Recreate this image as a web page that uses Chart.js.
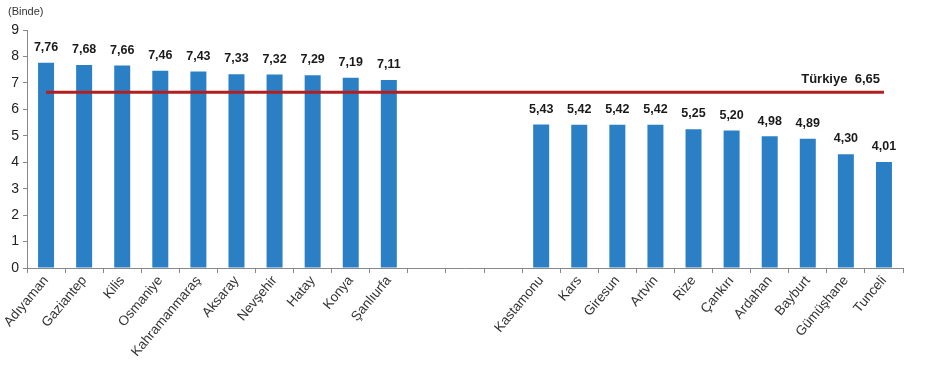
<!DOCTYPE html>
<html>
<head>
<meta charset="utf-8">
<script src="https://cdn.jsdelivr.net/npm/chart.js@4"></script>
<style>
  html, body { margin: 0; padding: 0; background: #fff; }
  #wrap { width: 934px; height: 370px; position: relative; }
</style>
</head>
<body>
<div id="wrap"><canvas id="grafik"></canvas></div>
<script>
// Iller (bos etiketler iki grup arasindaki boslugu olusturur)
const iller = [
    'Adıyaman', 'Gaziantep', 'Kilis', 'Osmaniye', 'Kahramanmaraş',
    'Aksaray', 'Nevşehir', 'Hatay', 'Konya', 'Şanlıurfa',
    '', '', '',
    'Kastamonu', 'Kars', 'Giresun', 'Artvin', 'Rize',
    'Çankırı', 'Ardahan', 'Bayburt', 'Gümüşhane', 'Tunceli'
];

// Binde degerler
const degerler = [
    7.76, 7.68, 7.66, 7.46, 7.43, 7.33, 7.32, 7.29, 7.19, 7.11,
    null, null, null,
    5.43, 5.42, 5.42, 5.42, 5.25, 5.20, 4.98, 4.89, 4.30, 4.01
];

const turkiyeDegeri = 6.65;
const yTikleri = [0, 1, 2, 3, 4, 5, 6, 7, 8, 9];

function virgulle(v) {
    return v.toFixed(2).replace('.', ',');
}

/**
 * Cubuk ustu etiketler ve Turkiye yazisi
 */
const etiketEklentisi = {
    id: 'etiketler',
    afterDatasetsDraw(chart) {
        const ctx = chart.ctx;
        const meta = chart.getDatasetMeta(0);
        ctx.save();
        ctx.font = 'bold 12.5px "Liberation Sans", Arial, sans-serif';
        ctx.fillStyle = '#1a1a1a';
        ctx.textAlign = 'center';
        ctx.textBaseline = 'bottom';
        meta.data.forEach(function (bar, i) {
            const v = degerler[i];
            if (v === null) return;
            ctx.fillText(virgulle(v), bar.x, bar.y - 9);
        });

        // Turkiye cizgisi etiketi
        const cizgi = chart.getDatasetMeta(1).data;
        const son = cizgi[cizgi.length - 1];
        ctx.font = 'bold 13px "Liberation Sans", Arial, sans-serif';
        ctx.textAlign = 'right';
        ctx.fillText('Türkiye  ' + virgulle(turkiyeDegeri), son.x - 4, son.y - 6);

        // Birim
        ctx.font = '11px "Liberation Sans", Arial, sans-serif';
        ctx.fillStyle = '#333';
        ctx.textAlign = 'left';
        ctx.textBaseline = 'middle';
        ctx.fillText('(Binde)', 8, 12);
        ctx.restore();
    }
};

const ctx = document.getElementById('grafik').getContext('2d');

new Chart(ctx, {
    type: 'bar',
    data: {
        labels: iller,
        datasets: [
            {
                type: 'bar',
                data: degerler,
                backgroundColor: '#2B80C5',
                barPercentage: 0.42,
                categoryPercentage: 1.0,
                order: 2
            },
            {
                type: 'line',
                data: iller.map(() => turkiyeDegeri),
                borderColor: '#B21F1F',
                borderWidth: 3,
                pointRadius: 0,
                fill: false,
                order: 1
            }
        ]
    },
    options: {
        responsive: true,
        maintainAspectRatio: false,
        animation: false,
        layout: { padding: { top: 30, right: 31, left: 0, bottom: 0 } },
        plugins: {
            legend: { display: false },
            tooltip: { enabled: false }
        },
        scales: {
            x: {
                grid: {
                    display: true,
                    drawOnChartArea: false,
                    drawTicks: true,
                    tickLength: 5,
                    offset: true,
                    color: '#888'
                },
                border: { color: '#888', width: 1 },
                ticks: {
                    color: '#333',
                    font: { size: 13.5, family: '"Liberation Sans", Arial, sans-serif' },
                    maxRotation: 50,
                    minRotation: 50,
                    autoSkip: false,
                    padding: 0
                },
                afterFit: function (scale) { scale.height = 102; }
            },
            y: {
                min: 0,
                max: 9,
                afterBuildTicks: function (scale) {
                    scale.ticks = yTikleri.map(v => ({ value: v }));
                },
                grid: {
                    display: true,
                    drawOnChartArea: false,
                    drawTicks: true,
                    tickLength: 4,
                    color: '#888'
                },
                border: { color: '#888', width: 1 },
                ticks: {
                    color: '#222',
                    font: { size: 14, family: '"Liberation Sans", Arial, sans-serif' },
                    padding: 4
                },
                afterFit: function (scale) { scale.width = 27; }
            }
        }
    },
    plugins: [etiketEklentisi]
});
</script>
</body>
</html>
